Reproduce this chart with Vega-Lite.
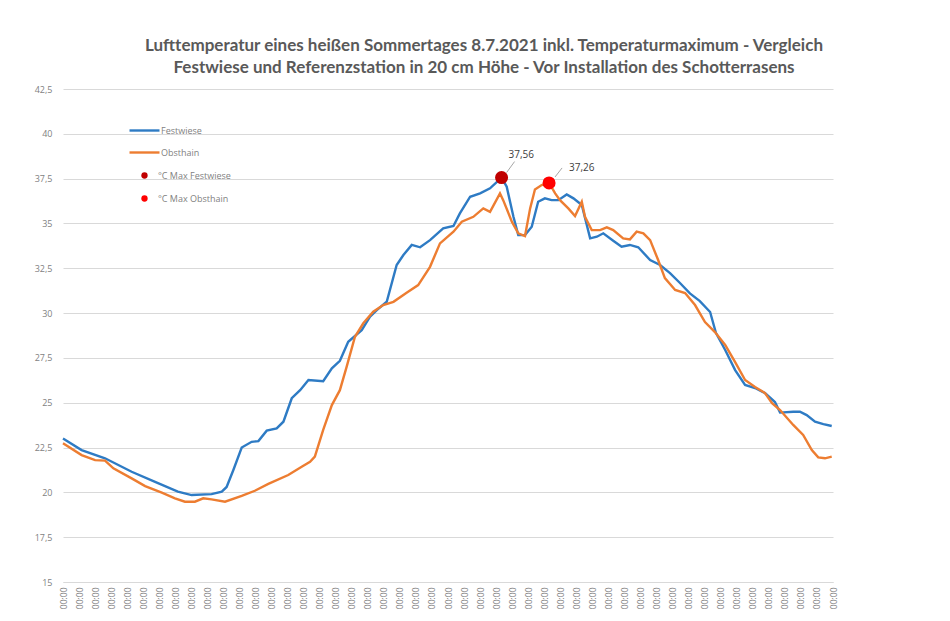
{
  "$schema": "https://vega.github.io/schema/vega-lite/v6.json",
  "width": 770,
  "height": 493,
  "autosize": {"type": "none"},
  "padding": {"left": 63, "top": 89, "right": 117, "bottom": 39},
  "background": "white",
  "title": {
    "text": ["Lufttemperatur eines heißen Sommertages 8.7.2021 inkl. Temperaturmaximum - Vergleich", "Festwiese und Referenzstation in 20 cm Höhe - Vor Installation des Schotterrasens"],
    "font": "Lato", "fontSize": 17, "fontWeight": "bold", "color": "#595959",
    "anchor": "middle", "dx": 36, "offset": 8, "lineHeight": 22
  },
  "config": {"view": {"stroke": null}},
  "datasets": {
    "temps": [
      {"t": 0.0, "series": "Festwiese", "temp": 23.0},
      {"t": 0.58, "series": "Festwiese", "temp": 22.36},
      {"t": 1.31, "series": "Festwiese", "temp": 21.9},
      {"t": 2.14, "series": "Festwiese", "temp": 21.15},
      {"t": 2.87, "series": "Festwiese", "temp": 20.59},
      {"t": 3.58, "series": "Festwiese", "temp": 20.04},
      {"t": 4.01, "series": "Festwiese", "temp": 19.85},
      {"t": 4.63, "series": "Festwiese", "temp": 19.9},
      {"t": 4.95, "series": "Festwiese", "temp": 20.04},
      {"t": 5.1, "series": "Festwiese", "temp": 20.3},
      {"t": 5.31, "series": "Festwiese", "temp": 21.25},
      {"t": 5.57, "series": "Festwiese", "temp": 22.5},
      {"t": 5.88, "series": "Festwiese", "temp": 22.82},
      {"t": 6.09, "series": "Festwiese", "temp": 22.86},
      {"t": 6.35, "series": "Festwiese", "temp": 23.44},
      {"t": 6.66, "series": "Festwiese", "temp": 23.57},
      {"t": 6.87, "series": "Festwiese", "temp": 23.94},
      {"t": 7.13, "series": "Festwiese", "temp": 25.25},
      {"t": 7.39, "series": "Festwiese", "temp": 25.7},
      {"t": 7.65, "series": "Festwiese", "temp": 26.27},
      {"t": 8.11, "series": "Festwiese", "temp": 26.2},
      {"t": 8.38, "series": "Festwiese", "temp": 26.92},
      {"t": 8.63, "series": "Festwiese", "temp": 27.34},
      {"t": 8.89, "series": "Festwiese", "temp": 28.4},
      {"t": 9.31, "series": "Festwiese", "temp": 29.05},
      {"t": 9.57, "series": "Festwiese", "temp": 29.8},
      {"t": 9.78, "series": "Festwiese", "temp": 30.17},
      {"t": 10.09, "series": "Festwiese", "temp": 30.63},
      {"t": 10.4, "series": "Festwiese", "temp": 32.68},
      {"t": 10.61, "series": "Festwiese", "temp": 33.24},
      {"t": 10.87, "series": "Festwiese", "temp": 33.8},
      {"t": 11.13, "series": "Festwiese", "temp": 33.67},
      {"t": 11.44, "series": "Festwiese", "temp": 34.07},
      {"t": 11.85, "series": "Festwiese", "temp": 34.73},
      {"t": 12.17, "series": "Festwiese", "temp": 34.86},
      {"t": 12.37, "series": "Festwiese", "temp": 35.56},
      {"t": 12.69, "series": "Festwiese", "temp": 36.49},
      {"t": 13.0, "series": "Festwiese", "temp": 36.68},
      {"t": 13.31, "series": "Festwiese", "temp": 36.96},
      {"t": 13.67, "series": "Festwiese", "temp": 37.56},
      {"t": 13.83, "series": "Festwiese", "temp": 37.05},
      {"t": 14.04, "series": "Festwiese", "temp": 35.37},
      {"t": 14.19, "series": "Festwiese", "temp": 34.35},
      {"t": 14.4, "series": "Festwiese", "temp": 34.35},
      {"t": 14.61, "series": "Festwiese", "temp": 34.82},
      {"t": 14.81, "series": "Festwiese", "temp": 36.21},
      {"t": 15.02, "series": "Festwiese", "temp": 36.4},
      {"t": 15.23, "series": "Festwiese", "temp": 36.3},
      {"t": 15.44, "series": "Festwiese", "temp": 36.3},
      {"t": 15.7, "series": "Festwiese", "temp": 36.62},
      {"t": 15.91, "series": "Festwiese", "temp": 36.4},
      {"t": 16.17, "series": "Festwiese", "temp": 36.03},
      {"t": 16.43, "series": "Festwiese", "temp": 34.17},
      {"t": 16.64, "series": "Festwiese", "temp": 34.26},
      {"t": 16.84, "series": "Festwiese", "temp": 34.45},
      {"t": 17.15, "series": "Festwiese", "temp": 34.04},
      {"t": 17.41, "series": "Festwiese", "temp": 33.7},
      {"t": 17.67, "series": "Festwiese", "temp": 33.8},
      {"t": 17.93, "series": "Festwiese", "temp": 33.67},
      {"t": 18.3, "series": "Festwiese", "temp": 32.96},
      {"t": 18.61, "series": "Festwiese", "temp": 32.68},
      {"t": 18.92, "series": "Festwiese", "temp": 32.23},
      {"t": 19.23, "series": "Festwiese", "temp": 31.68},
      {"t": 19.54, "series": "Festwiese", "temp": 31.1},
      {"t": 19.85, "series": "Festwiese", "temp": 30.67},
      {"t": 20.17, "series": "Festwiese", "temp": 30.06},
      {"t": 20.35, "series": "Festwiese", "temp": 28.9},
      {"t": 20.64, "series": "Festwiese", "temp": 27.94},
      {"t": 20.95, "series": "Festwiese", "temp": 26.82},
      {"t": 21.26, "series": "Festwiese", "temp": 25.99},
      {"t": 21.57, "series": "Festwiese", "temp": 25.82},
      {"t": 21.88, "series": "Festwiese", "temp": 25.54},
      {"t": 22.19, "series": "Festwiese", "temp": 25.04},
      {"t": 22.35, "series": "Festwiese", "temp": 24.45},
      {"t": 22.76, "series": "Festwiese", "temp": 24.5},
      {"t": 22.97, "series": "Festwiese", "temp": 24.5},
      {"t": 23.18, "series": "Festwiese", "temp": 24.31},
      {"t": 23.44, "series": "Festwiese", "temp": 23.94},
      {"t": 23.7, "series": "Festwiese", "temp": 23.81},
      {"t": 23.96, "series": "Festwiese", "temp": 23.7},

      {"t": 0.0, "series": "Obsthain", "temp": 22.74},
      {"t": 0.58, "series": "Obsthain", "temp": 22.08},
      {"t": 1.0, "series": "Obsthain", "temp": 21.8},
      {"t": 1.31, "series": "Obsthain", "temp": 21.77},
      {"t": 1.57, "series": "Obsthain", "temp": 21.34},
      {"t": 2.14, "series": "Obsthain", "temp": 20.78},
      {"t": 2.56, "series": "Obsthain", "temp": 20.35},
      {"t": 3.08, "series": "Obsthain", "temp": 19.98},
      {"t": 3.49, "series": "Obsthain", "temp": 19.67},
      {"t": 3.8, "series": "Obsthain", "temp": 19.48},
      {"t": 4.11, "series": "Obsthain", "temp": 19.48},
      {"t": 4.37, "series": "Obsthain", "temp": 19.67},
      {"t": 4.63, "series": "Obsthain", "temp": 19.61},
      {"t": 5.05, "series": "Obsthain", "temp": 19.48},
      {"t": 5.57, "series": "Obsthain", "temp": 19.8},
      {"t": 5.98, "series": "Obsthain", "temp": 20.09},
      {"t": 6.4, "series": "Obsthain", "temp": 20.47},
      {"t": 7.02, "series": "Obsthain", "temp": 20.97},
      {"t": 7.44, "series": "Obsthain", "temp": 21.43},
      {"t": 7.7, "series": "Obsthain", "temp": 21.7},
      {"t": 7.85, "series": "Obsthain", "temp": 21.99},
      {"t": 8.11, "series": "Obsthain", "temp": 23.48},
      {"t": 8.38, "series": "Obsthain", "temp": 24.87},
      {"t": 8.63, "series": "Obsthain", "temp": 25.7},
      {"t": 8.84, "series": "Obsthain", "temp": 27.0},
      {"t": 9.1, "series": "Obsthain", "temp": 28.68},
      {"t": 9.36, "series": "Obsthain", "temp": 29.43},
      {"t": 9.67, "series": "Obsthain", "temp": 30.08},
      {"t": 9.98, "series": "Obsthain", "temp": 30.45},
      {"t": 10.3, "series": "Obsthain", "temp": 30.63},
      {"t": 10.71, "series": "Obsthain", "temp": 31.14},
      {"t": 11.07, "series": "Obsthain", "temp": 31.56},
      {"t": 11.44, "series": "Obsthain", "temp": 32.58},
      {"t": 11.75, "series": "Obsthain", "temp": 33.89},
      {"t": 12.17, "series": "Obsthain", "temp": 34.54},
      {"t": 12.43, "series": "Obsthain", "temp": 35.1},
      {"t": 12.79, "series": "Obsthain", "temp": 35.37},
      {"t": 13.1, "series": "Obsthain", "temp": 35.84},
      {"t": 13.31, "series": "Obsthain", "temp": 35.65},
      {"t": 13.62, "series": "Obsthain", "temp": 36.68},
      {"t": 13.72, "series": "Obsthain", "temp": 36.3},
      {"t": 13.99, "series": "Obsthain", "temp": 35.1},
      {"t": 14.19, "series": "Obsthain", "temp": 34.45},
      {"t": 14.4, "series": "Obsthain", "temp": 34.3},
      {"t": 14.56, "series": "Obsthain", "temp": 35.84},
      {"t": 14.71, "series": "Obsthain", "temp": 36.9},
      {"t": 14.92, "series": "Obsthain", "temp": 37.14},
      {"t": 15.15, "series": "Obsthain", "temp": 37.26},
      {"t": 15.34, "series": "Obsthain", "temp": 36.68},
      {"t": 15.49, "series": "Obsthain", "temp": 36.3},
      {"t": 15.75, "series": "Obsthain", "temp": 35.84},
      {"t": 15.96, "series": "Obsthain", "temp": 35.41},
      {"t": 16.17, "series": "Obsthain", "temp": 36.21},
      {"t": 16.27, "series": "Obsthain", "temp": 35.37},
      {"t": 16.48, "series": "Obsthain", "temp": 34.63},
      {"t": 16.74, "series": "Obsthain", "temp": 34.63},
      {"t": 16.95, "series": "Obsthain", "temp": 34.78},
      {"t": 17.15, "series": "Obsthain", "temp": 34.63},
      {"t": 17.46, "series": "Obsthain", "temp": 34.17},
      {"t": 17.67, "series": "Obsthain", "temp": 34.11},
      {"t": 17.88, "series": "Obsthain", "temp": 34.54},
      {"t": 18.09, "series": "Obsthain", "temp": 34.45},
      {"t": 18.3, "series": "Obsthain", "temp": 34.07},
      {"t": 18.55, "series": "Obsthain", "temp": 32.96},
      {"t": 18.76, "series": "Obsthain", "temp": 31.95},
      {"t": 19.08, "series": "Obsthain", "temp": 31.29},
      {"t": 19.39, "series": "Obsthain", "temp": 31.12},
      {"t": 19.7, "series": "Obsthain", "temp": 30.45},
      {"t": 20.01, "series": "Obsthain", "temp": 29.5},
      {"t": 20.32, "series": "Obsthain", "temp": 28.94},
      {"t": 20.64, "series": "Obsthain", "temp": 28.22},
      {"t": 20.95, "series": "Obsthain", "temp": 27.27},
      {"t": 21.26, "series": "Obsthain", "temp": 26.27},
      {"t": 21.57, "series": "Obsthain", "temp": 25.88},
      {"t": 21.88, "series": "Obsthain", "temp": 25.54},
      {"t": 22.1, "series": "Obsthain", "temp": 24.98},
      {"t": 22.35, "series": "Obsthain", "temp": 24.59},
      {"t": 22.76, "series": "Obsthain", "temp": 23.76},
      {"t": 23.07, "series": "Obsthain", "temp": 23.2},
      {"t": 23.34, "series": "Obsthain", "temp": 22.36},
      {"t": 23.54, "series": "Obsthain", "temp": 21.95},
      {"t": 23.75, "series": "Obsthain", "temp": 21.9},
      {"t": 23.96, "series": "Obsthain", "temp": 21.99}
    ],
    "maxima": [
      {"t": 13.67, "series": "°C Max Festwiese", "temp": 37.56, "label": "37,56"},
      {"t": 15.15, "series": "°C Max Obsthain", "temp": 37.26, "label": "37,26"}
    ]
  },
  "encoding": {
    "x": {
      "field": "t", "type": "quantitative",
      "scale": {"domain": [0, 24], "nice": false, "zero": false},
      "axis": {
        "title": null,
        "values": [0, 0.5, 1, 1.5, 2, 2.5, 3, 3.5, 4, 4.5, 5, 5.5, 6, 6.5, 7, 7.5, 8, 8.5, 9, 9.5, 10, 10.5, 11, 11.5, 12, 12.5, 13, 13.5, 14, 14.5, 15, 15.5, 16, 16.5, 17, 17.5, 18, 18.5, 19, 19.5, 20, 20.5, 21, 21.5, 22, 22.5, 23, 23.5, 24],
        "labelExpr": "'00:00'",
        "labelAngle": -90,
        "labelOverlap": false,
        "labelFlush": false,
        "labelBound": false,
        "grid": false,
        "ticks": false,
        "domain": true,
        "domainColor": "#d9d9d9",
        "labelFont": "Open Sans",
        "labelFontSize": 8.5,
        "labelColor": "#7f7f7f",
        "labelPadding": 5
      }
    },
    "y": {
      "field": "temp", "type": "quantitative",
      "scale": {"domain": [15, 42.5], "nice": false, "zero": false},
      "axis": {
        "title": null,
        "values": [15, 17.5, 20, 22.5, 25, 27.5, 30, 32.5, 35, 37.5, 40, 42.5],
        "labelExpr": "replace(toString(datum.value), '.', ',')",
        "grid": true,
        "gridColor": "#d9d9d9",
        "gridWidth": 1,
        "domain": false,
        "ticks": false,
        "labelFont": "Open Sans",
        "labelFontSize": 9,
        "labelColor": "#7f7f7f",
        "labelPadding": 11
      }
    }
  },
  "layer": [
    {
      "data": {"name": "temps"},
      "mark": {"type": "line", "strokeWidth": 2.4},
      "encoding": {
        "color": {
          "field": "series", "type": "nominal",
          "scale": {
            "domain": ["Festwiese", "Obsthain"],
            "range": ["#2e7bc4", "#ed7d31"]
          },
          "legend": {
            "orient": "none", "legendX": 65, "legendY": 25,
            "title": null,
            "labelFont": "Open Sans", "labelFontSize": 9, "labelColor": "#7f7f7f",
            "symbolType": "stroke", "symbolSize": 900, "symbolStrokeWidth": 2.4,
            "rowPadding": -6, "labelOffset": 0
          }
        }
      }
    },
    {
      "data": {"name": "maxima"},
      "mark": {"type": "point", "filled": true, "size": 170, "opacity": 1},
      "encoding": {
        "fill": {
          "field": "series", "type": "nominal",
          "scale": {
            "domain": ["°C Max Festwiese", "°C Max Obsthain"],
            "range": ["#c00000", "#ff0000"]
          },
          "legend": {
            "orient": "none", "legendX": 77, "legendY": 82,
            "title": null,
            "labelFont": "Open Sans", "labelFontSize": 9, "labelColor": "#7f7f7f",
            "symbolType": "circle", "symbolSize": 40, "symbolOpacity": 1,
            "rowPadding": 13, "labelOffset": 9
          }
        }
      }
    },
    {
      "data": {"name": "maxima"},
      "transform": [{"filter": "datum.series == '°C Max Festwiese'"}],
      "mark": {"type": "rule", "color": "#a6a6a6", "strokeWidth": 1, "xOffset": 5, "yOffset": -5, "x2Offset": 13, "y2Offset": -16},
      "encoding": {"x2": {"field": "t"}, "y2": {"field": "temp"}}
    },
    {
      "data": {"name": "maxima"},
      "transform": [{"filter": "datum.series == '°C Max Obsthain'"}],
      "mark": {"type": "rule", "color": "#a6a6a6", "strokeWidth": 1, "xOffset": 6, "yOffset": -6, "x2Offset": 13, "y2Offset": -15},
      "encoding": {"x2": {"field": "t"}, "y2": {"field": "temp"}}
    },
    {
      "data": {"name": "maxima"},
      "transform": [{"filter": "datum.series == '°C Max Festwiese'"}],
      "mark": {"type": "text", "align": "left", "baseline": "middle", "dx": 7, "dy": -23, "font": "Open Sans", "fontSize": 10, "color": "#404040"},
      "encoding": {"text": {"field": "label"}}
    },
    {
      "data": {"name": "maxima"},
      "transform": [{"filter": "datum.series == '°C Max Obsthain'"}],
      "mark": {"type": "text", "align": "left", "baseline": "middle", "dx": 20, "dy": -15, "font": "Open Sans", "fontSize": 10, "color": "#404040"},
      "encoding": {"text": {"field": "label"}}
    }
  ]
}
